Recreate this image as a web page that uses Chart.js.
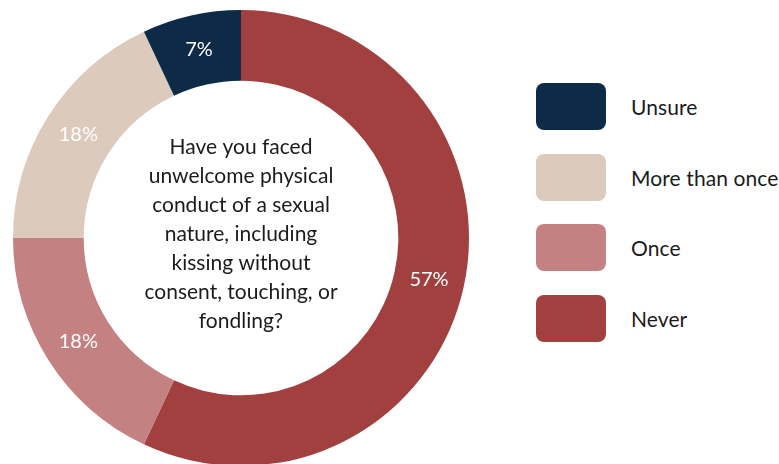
<!DOCTYPE html>
<html>
<head>
<meta charset="utf-8">
<script src="https://cdn.jsdelivr.net/npm/chart.js@4"></script>
<style>
  html, body { margin: 0; padding: 0; background: #fff; overflow: hidden; }
  body { width: 779px; height: 464px; position: relative; font-family: Lato, "Open Sans", sans-serif; }
  #wrap { position: absolute; left: 13px; top: 10px; width: 456px; height: 456px; }
  #legend { position: absolute; left: 536px; top: 83px; margin: 0; padding: 0; list-style: none; }
  #legend li { display: flex; align-items: center; height: 47px; margin-bottom: 23.5px; }
  #legend .box { width: 70px; height: 47px; border-radius: 8px; margin-right: 25px; }
  #legend .txt { font-size: 21px; color: #1b1b1b; letter-spacing: 0.1px; }
</style>
</head>
<body>
<div id="wrap"><canvas id="donut"></canvas></div>
<ul id="legend"></ul>
<script>
var categories = ['Never', 'Once', 'More than once', 'Unsure'];
var shares = [57, 18, 18, 7];
var colors = ['#a23f3f', '#c48181', '#dccbbd', '#0d2a47'];
var legendOrder = ['Unsure', 'More than once', 'Once', 'Never'];
var question = [
    'Have you faced',
    'unwelcome physical',
    'conduct of a sexual',
    'nature, including',
    'kissing without',
    'consent, touching, or',
    'fondling?'
];

// percent labels on each slice and the question in the hole
var donutText = {
    id: 'donutText',
    afterDatasetsDraw: function(chart) {
        var ctx = chart.ctx;
        var meta = chart.getDatasetMeta(0);
        ctx.save();
        ctx.textAlign = 'center';
        ctx.textBaseline = 'middle';
        ctx.fillStyle = '#ffffff';
        ctx.font = '20px Lato, sans-serif';
        meta.data.forEach(function(arc, i) {
            var p = arc.tooltipPosition();
            ctx.fillText(shares[i] + '%', p.x, p.y);
        });
        var cx = meta.data[0].x, cy = meta.data[0].y - 4;
        ctx.fillStyle = '#1b1b1b';
        ctx.font = '21px Lato, sans-serif';
        var lh = 29;
        var y0 = cy - (question.length - 1) * lh / 2;
        question.forEach(function(line, i) {
            ctx.fillText(line, cx, y0 + i * lh);
        });
        ctx.restore();
    }
};

new Chart(document.getElementById('donut').getContext('2d'), {
    type: 'doughnut',
    data: {
        labels: categories,
        datasets: [{
            data: shares,
            backgroundColor: colors,
            borderWidth: 0
        }]
    },
    options: {
        responsive: true,
        maintainAspectRatio: false,
        animation: false,
        cutout: '69%',
        layout: { padding: 0 },
        plugins: {
            legend: { display: false },
            tooltip: { enabled: false }
        }
    },
    plugins: [donutText]
});

var legend = document.getElementById('legend');
legendOrder.forEach(function(name) {
    var i = categories.indexOf(name);
    var li = document.createElement('li');
    li.innerHTML = '<span class="box" style="background:' + colors[i] + '"></span><span class="txt">' + name + '</span>';
    legend.appendChild(li);
});
</script>
</body>
</html>
